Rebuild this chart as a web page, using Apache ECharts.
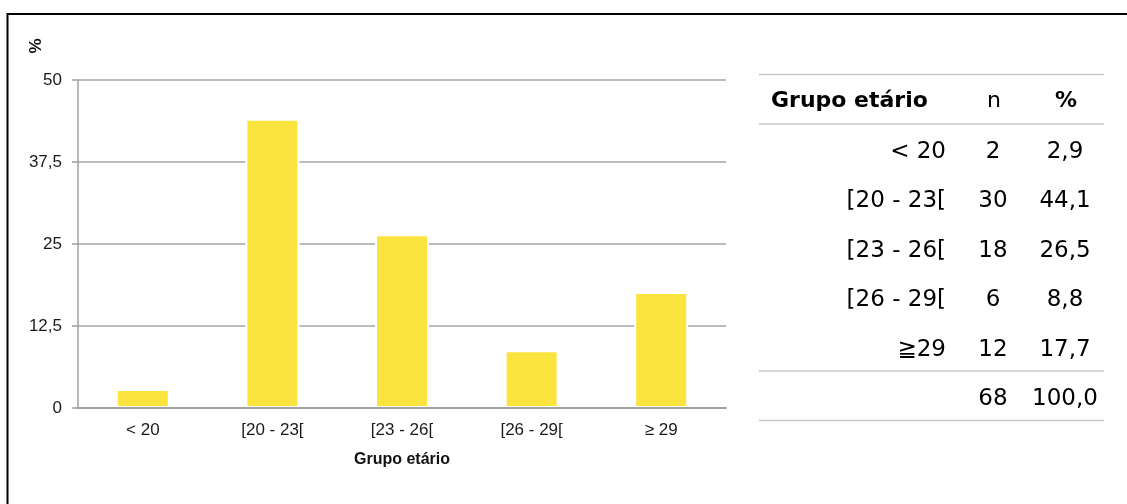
<!DOCTYPE html>
<html>
<head>
<meta charset="utf-8">
<script src="https://cdn.jsdelivr.net/npm/echarts@6/dist/echarts.min.js"></script>
<style>
  html, body { margin: 0; padding: 0; background: #fff; }
  #chart { width: 1127px; height: 504px; }
</style>
</head>
<body>
<div id="chart"></div>
<script>
// chart data
const categories = ['< 20', '[20 - 23[', '[23 - 26[', '[26 - 29[', '≥ 29'];
const percent = [2.9, 44.1, 26.5, 8.8, 17.7];

// table data
const tableHeader = ['Grupo etário', 'n', '%'];
const tableLabels = ['< 20', '[20 - 23[', '[23 - 26[', '[26 - 29[', '≧29'];
const tableN = [2, 30, 18, 6, 12];
const tablePct = ['2,9', '44,1', '26,5', '8,8', '17,7'];
const totalN = 68;
const totalPct = '100,0';

const chart = echarts.init(document.getElementById('chart'));

const tableFont = '23px "DejaVu Sans"';
const lineStyle = { stroke: '#c8c8c8', lineWidth: 1.5 };

// build table pieces
const tableGraphics = [];
[74.5, 124, 371, 420.5].forEach((y) => {
  tableGraphics.push({
    type: 'line',
    shape: { x1: 759, y1: y, x2: 1104, y2: y },
    style: lineStyle,
  });
});
tableGraphics.push(
  {
    type: 'text', x: 771, y: 101,
    style: { text: tableHeader[0], font: 'bold 22px "DejaVu Sans"', fill: '#000', textAlign: 'left', textVerticalAlign: 'middle' },
  },
  {
    type: 'text', x: 994, y: 101,
    style: { text: tableHeader[1], font: '22px "DejaVu Sans"', fill: '#000', textAlign: 'center', textVerticalAlign: 'middle' },
  },
  {
    type: 'text', x: 1066, y: 101,
    style: { text: tableHeader[2], font: 'bold 22px "DejaVu Sans"', fill: '#000', textAlign: 'center', textVerticalAlign: 'middle' },
  }
);
tableLabels.forEach((lab, i) => {
  const y = 152 + i * 49.4;
  tableGraphics.push(
    { type: 'text', x: 946, y, style: { text: lab, font: tableFont, fill: '#000', textAlign: 'right', textVerticalAlign: 'middle' } },
    { type: 'text', x: 993, y, style: { text: String(tableN[i]), font: tableFont, fill: '#000', textAlign: 'center', textVerticalAlign: 'middle' } },
    { type: 'text', x: 1065, y, style: { text: tablePct[i], font: tableFont, fill: '#000', textAlign: 'center', textVerticalAlign: 'middle' } }
  );
});
tableGraphics.push(
  { type: 'text', x: 993, y: 399, style: { text: String(totalN), font: tableFont, fill: '#000', textAlign: 'center', textVerticalAlign: 'middle' } },
  { type: 'text', x: 1065, y: 399, style: { text: totalPct, font: tableFont, fill: '#000', textAlign: 'center', textVerticalAlign: 'middle' } }
);

const option = {
  animation: false,
  textStyle: { fontFamily: '"Liberation Sans", Arial, sans-serif' },
  grid: { left: 78, right: 401, top: 80, bottom: 96 },
  xAxis: {
    type: 'category',
    data: categories,
    z: 5,
    name: 'Grupo etário',
    nameLocation: 'middle',
    nameGap: 44,
    nameTextStyle: { fontSize: 16, fontWeight: 'bold', color: '#111' },
    axisLine: { lineStyle: { color: '#a0a0a0', width: 2 } },
    axisTick: { length: 5, lineStyle: { color: '#a0a0a0', width: 1.5 } },
    axisLabel: { fontSize: 17, color: '#1a1a1a', margin: 14 },
  },
  yAxis: {
    type: 'value',
    min: 0,
    max: 50,
    interval: 12.5,
    axisLine: { show: true, lineStyle: { color: '#a0a0a0', width: 1.5 } },
    axisTick: { show: true, length: 6, lineStyle: { color: '#a0a0a0', width: 1.5 } },
    axisLabel: {
      fontSize: 17,
      color: '#1a1a1a',
      margin: 16,
      formatter: (v) => String(v).replace('.', ','),
    },
    splitLine: { lineStyle: { color: '#a6a6a6', width: 1.5 } },
  },
  series: [
    {
      type: 'bar',
      data: percent,
      barWidth: 54,
      itemStyle: { color: '#fbe43e', borderColor: '#fff', borderWidth: 2 },
    },
  ],
  graphic: [
    {
      type: 'rect',
      shape: { x: 7.5, y: 14, width: 1200, height: 600 },
      style: { fill: 'none', stroke: '#000', lineWidth: 2 },
    },
    {
      type: 'text',
      x: 36, y: 46,
      rotation: Math.PI / 2,
      style: { text: '%', font: 'bold 17px "Liberation Sans"', fill: '#111', textAlign: 'center', textVerticalAlign: 'middle' },
    },
    ...tableGraphics,
  ],
};

chart.setOption(option);
</script>
</body>
</html>
